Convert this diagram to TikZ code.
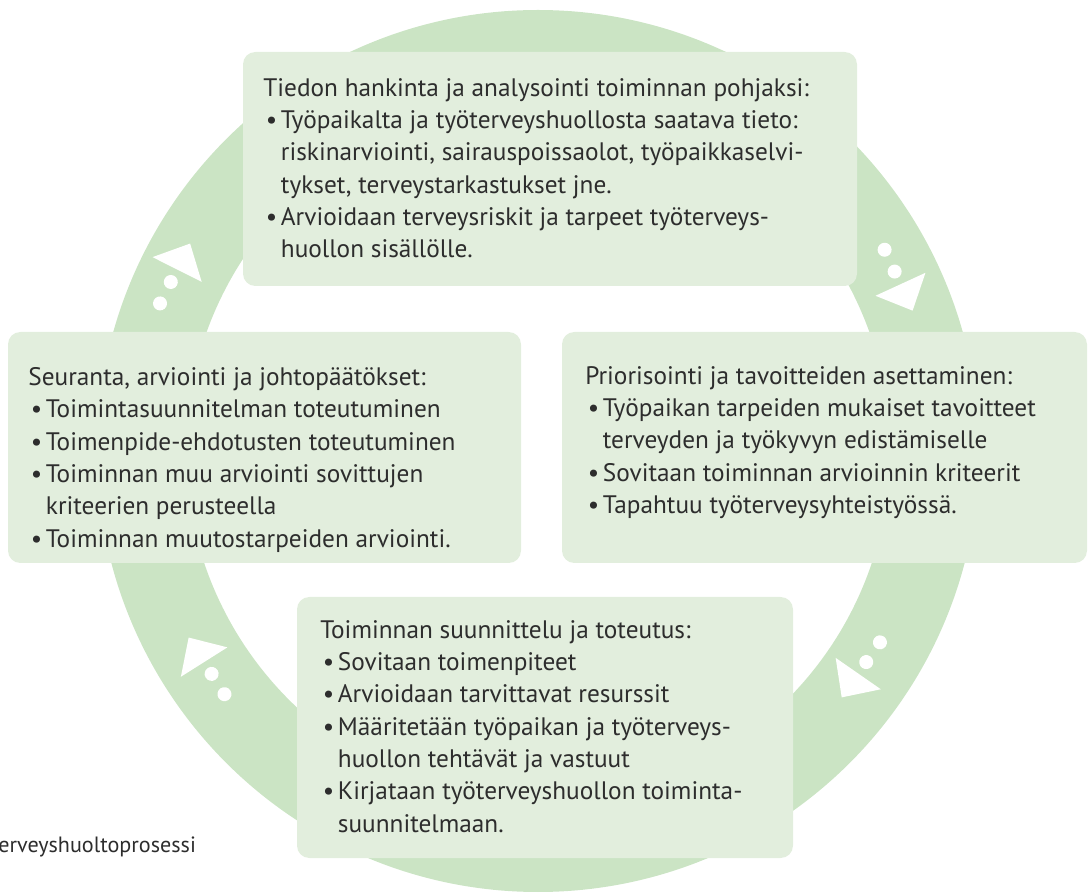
\documentclass[tikz,border=0pt]{standalone}
\usepackage{fontspec}
\setmainfont{PT Sans}
\definecolor{ringgreen}{RGB}{203,228,196}
\definecolor{boxgreen}{RGB}{226,238,221}
\definecolor{txtgray}{RGB}{45,45,45}
\newcommand{\bul}{\makebox[10pt][l]{\hspace{1.5pt}\textbullet}}
\newcommand{\ind}{\makebox[10pt]{}}
\tikzset{
	panel/.style={fill=boxgreen, rounded corners=7pt},
	boxtext/.style={anchor=north west, inner sep=0pt, align=left, text=txtgray, font=\fontsize{14.4pt}{18.4pt}\selectfont}
}
\begin{document}
\begin{tikzpicture}[x=0.02cm, y=0.02cm]
		\useasboundingbox (0,0) rectangle (1089,893);
		\fill[ringgreen, even odd rule] (538,442) circle (441) (538,442) circle (352);
		\foreach \a/\r in {153.3/404, 24.7/399, 212.3/395, -34.8/390}
		{
			\begin{scope}[shift={(538,442)}, shift={(\a:\r)}, rotate=\a-90]
				\fill[white] (29,0) -- (0,27.5) -- (0,-27.5) -- cycle;
				\fill[white] (-14,0) circle (7);
				\fill[white] (-38,0) circle (7);
			\end{scope}
		}
		\fill[panel] (243,607) rectangle (857,841);
		\fill[panel] (8,330) rectangle (521,561);
		\fill[panel] (562,330) rectangle (1087,561);
		\fill[panel] (297,35) rectangle (793,296);
		\node[boxtext] (info) at (263,815) {Tiedon hankinta ja analysointi toiminnan pohjaksi:\\
			\bul Työpaikalta ja työterveyshuollosta saatava tieto:\\
			\ind riskinarviointi, sairauspoissaolot, työpaikkaselvi-\\
			\ind tykset, terveystarkastukset jne.\\
			\bul Arvioidaan terveysriskit ja tarpeet työterveys-\\
			\ind huollon sisällölle.};
		\node[boxtext] (seuranta) at (28,526) {Seuranta, arviointi ja johtopäätökset:\\
			\bul Toimintasuunnitelman toteutuminen\\
			\bul Toimenpide-ehdotusten toteutuminen\\
			\bul Toiminnan muu arviointi sovittujen\\
			\ind kriteerien perusteella\\
			\bul Toiminnan muutostarpeiden arviointi.};
		\node[boxtext] (tavoitteet) at (585,527) {Priorisointi ja tavoitteiden asettaminen:\\
			\bul Työpaikan tarpeiden mukaiset tavoitteet\\
			\ind terveyden ja työkyvyn edistämiselle\\
			\bul Sovitaan toiminnan arvioinnin kriteerit\\
			\bul Tapahtuu työterveysyhteistyössä.};
		\node[boxtext] (suunnittelu) at (320,273) {Toiminnan suunnittelu ja toteutus:\\
			\bul Sovitaan toimenpiteet\\
			\bul Arvioidaan tarvittavat resurssit\\
			\bul Määritetään työpaikan ja työterveys-\\
			\ind huollon tehtävät ja vastuut\\
			\bul Kirjataan työterveyshuollon toiminta-\\
			\ind suunnitelmaan.};
		\node[anchor=base west, inner sep=0pt, text=txtgray, font=\fontsize{12.6pt}{16pt}\selectfont] (caption) at (-2,41) {erveyshuoltoprosessi};
	\end{tikzpicture}
\end{document}
